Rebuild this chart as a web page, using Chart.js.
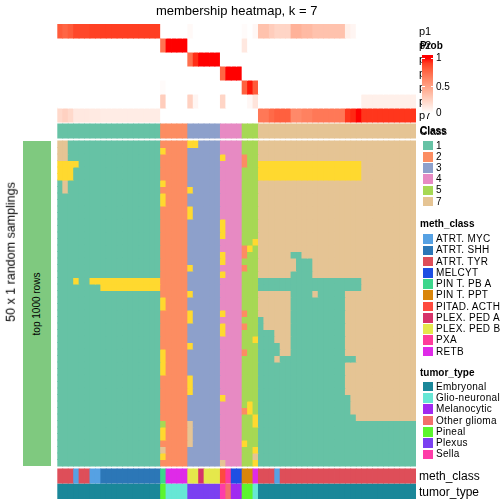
<!DOCTYPE html>
<html>
<head>
<meta charset="utf-8">
<script src="https://cdn.jsdelivr.net/npm/chart.js@4.4.0/dist/chart.umd.min.js"></script>
<style>
  body { margin: 0; background: #fff; font-family: "Liberation Sans", Arial, Helvetica, sans-serif; }
  #wrap { position: relative; width: 504px; height: 504px; overflow: hidden; }
  #wrap canvas { position: absolute; left: 0; top: 0; }
  #wrap div { position: absolute; white-space: nowrap; color: #000; }
</style>
</head>
<body>
<div id="wrap"><canvas id="heat" width="504" height="504"></canvas></div>
<script>
// ---- data ----
const classColors = { 1: '#66C2A5', 2: '#FC8D62', 3: '#8DA0CB', 4: '#E78AC3', 5: '#A6D854', 6: '#FFD92F', 7: '#E5C494' };
const classLegend = ['1', '2', '3', '4', '5', '7'];

// consensus class of each of the 66 samples (columns)
const sampleClass = "1111111111111111111 22222 333333 4444 555 77777777777777777777777777777";

// membership probabilities p1..p7 per column
const p1 = [0.80,0.76,0.80,0.87,0.87,0.87,0.89,0.89,0.90,0.90,0.90,0.90,0.90,0.90,0.90,0.90,0.90,0.90,0.90,
  0,0,0,0,0, 0.03,0,0,0,0,0, 0,0,0,0, 0.02,0,0.04,
  0.32,0.32,0.26,0.22,0.22,0.22,0.40,0.40,0.36,0.36,0.32,0.32,0.32,0.32,0.32,0.32,0.08,0.05,0,0,0,0,0,0,0,0,0,0,0];
const p2 = [0,0,0,0,0,0,0,0,0,0,0,0,0,0,0,0,0,0,0,
  0.70,1,1,1,1, 0,0,0,0,0,0, 0,0,0,0, 0.12,0,0,
  0,0,0,0,0,0,0,0,0,0,0,0,0,0,0,0,0,0,0,0,0,0,0,0,0,0,0,0,0];
const p3 = [0,0,0,0,0,0,0,0,0,0,0,0,0,0,0,0,0,0,0,
  0,0,0,0,0, 0.72,0.94,1,1,1,1, 0,0,0,0, 0,0,0,
  0,0,0,0,0,0,0,0,0,0,0,0,0,0,0,0,0,0,0,0,0,0,0,0,0,0,0,0,0];
const p4 = [0,0,0,0,0,0,0,0,0,0,0,0,0,0,0,0,0,0,0,
  0,0,0,0,0, 0,0,0,0,0,0, 0.76,1,1,1, 0,0,0,
  0,0,0,0,0,0,0,0,0,0,0,0,0,0,0,0,0,0,0,0,0,0,0,0,0,0,0,0,0];
const p5 = [0,0,0,0,0,0,0,0,0,0,0,0,0,0,0,0,0,0,0,
  0.02,0,0,0,0, 0,0,0,0,0,0, 0,0,0,0, 0.78,0.98,0.80,
  0,0,0,0,0,0,0,0,0,0,0,0,0,0,0,0,0,0,0,0,0,0,0,0,0,0,0,0,0];
const p6 = [0,0,0,0,0,0,0,0,0,0,0,0,0,0,0,0,0,0,0,
  0.26,0,0,0,0, 0.24,0.05,0,0,0,0, 0.22,0,0,0, 0,0.04,0.14,
  0,0,0,0,0,0,0,0,0,0,0,0,0,0,0,0,0,0,0,0.08,0.08,0.08,0.08,0.08,0.08,0.08,0.08,0.08,0.08];
const p7 = [0.20,0.24,0.20,0.12,0.12,0.12,0.11,0.11,0.10,0.10,0.10,0.10,0.10,0.10,0.10,0.10,0.10,0.10,0.10,
  0,0,0,0,0, 0,0,0,0,0,0, 0,0,0,0, 0,0,0,
  0.68,0.68,0.74,0.78,0.78,0.78,0.60,0.60,0.64,0.64,0.68,0.68,0.68,0.68,0.68,0.68,0.92,0.95,1.00,0.92,0.92,0.92,0.92,0.92,0.92,0.92,0.92,0.92,0.92];
const probRows = [p1, p2, p3, p4, p5, p6, p7];
const probNames = ['p1', 'p2', 'p3', 'p4', 'p5', 'p6', 'p7'];

// class of each column in each of the 50 random samplings
const samplings = [
  "7711111111111111111 22222 663333 4444 555 777777 7777777777 777 7777777777",
  "7711111111111111111 62222 333333 4444 555 777777 7777777777 777 7777777777",
  "7711111111111111111 22222 333333 6444 255 777777 7777777777 777 7777777777",
  "6666111111111111111 22222 333333 4444 255 666666 6666666666 666 7777777777",
  "6661111111111111111 22222 333333 4444 555 666666 6666666666 666 7777777777",
  "6661111111111111111 22222 333333 4444 555 666666 6666666666 666 7777777777",
  "1711111111111111111 62222 333333 4444 555 777777 7777777777 777 7777777777",
  "1711111111111111111 22222 633333 4444 555 777777 7777777777 777 7777777777",
  "1111111111111111111 62222 333333 4444 555 777777 7777777777 777 7777777777",
  "1111111111111111111 62222 333333 4444 555 777777 7777777777 777 7777777777",
  "1111111111111111111 22222 633333 4444 555 777777 7777777777 777 7777777777",
  "1111111111111111111 22222 633333 4444 555 777777 7777777777 777 7777777777",
  "1111111111111111111 22222 333333 6444 555 777777 7777777777 777 7777777777",
  "1111111111111111111 22222 333333 6444 555 777777 7777777777 777 7777777777",
  "1111111111111111111 22222 333333 6444 555 777777 7777777777 777 7777777777",
  "1111111111111111111 22222 333333 4444 556 777777 7777777777 777 7777777777",
  "1111111111111111111 22222 333333 4444 265 777777 7777777777 777 7777777777",
  "1111111111111111111 22222 333333 6444 255 777777 1177777777 777 7777777777",
  "1111111111111111111 22222 333333 6444 555 777777 7111777777 777 7777777777",
  "1111111111111111111 22222 633333 4444 255 777777 7111777777 777 7777777777",
  "1111111111111111111 22222 333333 6444 555 777777 1111777777 777 7777777777",
  "1116116666666666666 22222 333333 4444 555 111111 1111111111 111 7777777777",
  "1111111166666666666 22222 333333 4444 555 111111 1111111111 111 7777777777",
  "1111111111111111111 22222 633333 4444 555 777777 1111711111 777 7777777777",
  "1111111111111111111 62222 333333 4444 555 777777 1111111111 777 7777777777",
  "1111111111111111111 62222 333333 4444 555 777777 1111111111 777 7777777777",
  "1111111111111111111 22222 633333 6444 255 777777 1111111111 777 7777777777",
  "1111111111111111111 22222 633333 4444 555 177777 1111111111 777 7777777777",
  "1111111111111111111 22222 333333 6444 255 177777 1111111111 777 7777777777",
  "1111111111111111111 22222 333333 6444 555 111777 1111111111 777 7777777777",
  "1111111111111111111 22222 333333 4444 556 111777 1111111111 777 7777777777",
  "1111111111111111111 22222 633333 4444 555 111177 1111111111 777 7777777777",
  "1111111111111111111 62222 333333 4444 255 111177 1111111111 777 7777777777",
  "1111111111111111111 62222 333333 4444 555 111711 1111111111 117 7777777777",
  "1111111111111111111 62222 333333 4444 555 111111 1111111111 777 7777777777",
  "1111111111111111111 62222 333333 4444 555 111111 1111111111 777 7777777777",
  "1111111111111111111 22222 633333 4444 555 111111 1111111111 777 7777777777",
  "1111111111111111111 22222 633333 4444 555 111111 1111111111 777 7777777777",
  "1111111111111111111 22222 633333 4444 555 111111 1111111111 777 7777777777",
  "1111111111111111111 22222 333333 6444 555 111111 1111111111 177 7777777777",
  "1111111111111111111 22222 333333 4444 565 111111 1111111111 177 7777777777",
  "1111111111111111111 22222 333333 4444 265 111111 1111111111 177 7777777777",
  "1111111111111111111 22222 333333 4444 556 111111 1111111111 117 7777777777",
  "1111111111111111111 52222 733333 4444 556 111111 1111111111 111 1111111111",
  "1111111111111111111 62222 733333 4444 555 111111 1111111111 111 1111111111",
  "1111111111111111111 62222 733333 4444 555 111111 1111111111 111 1111111111",
  "1111111111111111111 22222 733333 4444 655 111111 1111111111 111 1111111111",
  "1111111111111111111 72222 333333 4444 556 111111 1111111111 111 1111111111",
  "1111111111111111111 62222 333333 4444 557 111111 1111111111 111 1111111111",
  "1111111111111111111 22222 333333 7444 556 111111 1111111111 111 1111111111"
];

const methClass = [
  'ATRT. TYR','ATRT. TYR','ATRT. TYR','ATRT. MYC','ATRT. TYR','ATRT. TYR','ATRT. MYC','ATRT. MYC',
  'ATRT. SHH','ATRT. SHH','ATRT. SHH','ATRT. SHH','ATRT. SHH','ATRT. SHH','ATRT. SHH','ATRT. SHH','ATRT. SHH','ATRT. SHH','ATRT. SHH',
  'PIN T. PB A','RETB','RETB','RETB','RETB',
  'PLEX. PED B','PLEX. PED B','PLEX. PED A','PLEX. PED B','PLEX. PED B','PLEX. PED B',
  'PITAD. ACTH','PXA','MELCYT','MELCYT',
  'PIN T. PPT','PIN T. PPT','RETB',
  'ATRT. TYR','ATRT. TYR','ATRT. TYR','ATRT. MYC','ATRT. TYR','ATRT. TYR','ATRT. TYR','ATRT. TYR','ATRT. TYR',
  'ATRT. TYR','ATRT. TYR','ATRT. TYR','ATRT. TYR','ATRT. TYR','ATRT. TYR','ATRT. TYR','ATRT. TYR','ATRT. TYR',
  'ATRT. TYR','ATRT. TYR','ATRT. TYR','ATRT. TYR','ATRT. TYR','ATRT. TYR','ATRT. TYR','ATRT. TYR','ATRT. TYR',
  'ATRT. TYR','ATRT. TYR'
];
const tumorType = [
  'Embryonal','Embryonal','Embryonal','Embryonal','Embryonal','Embryonal','Embryonal','Embryonal','Embryonal','Embryonal',
  'Embryonal','Embryonal','Embryonal','Embryonal','Embryonal','Embryonal','Embryonal','Embryonal','Embryonal',
  'Pineal','Glio-neuronal','Glio-neuronal','Glio-neuronal','Glio-neuronal',
  'Plexus','Plexus','Plexus','Plexus','Plexus','Plexus',
  'Sella','Other glioma','Melanocytic','Melanocytic',
  'Pineal','Pineal','Glio-neuronal',
  'Embryonal','Embryonal','Embryonal','Embryonal','Embryonal','Embryonal','Embryonal','Embryonal','Embryonal','Embryonal',
  'Embryonal','Embryonal','Embryonal','Embryonal','Embryonal','Embryonal','Embryonal','Embryonal','Embryonal','Embryonal',
  'Embryonal','Embryonal','Embryonal','Embryonal','Embryonal','Embryonal','Embryonal','Embryonal','Embryonal'
];

const methColors = {
  'ATRT. MYC': '#56A1E3', 'ATRT. SHH': '#2C77B7', 'ATRT. TYR': '#DE4E59', 'MELCYT': '#1D4FE3',
  'PIN T. PB A': '#3CD68C', 'PIN T. PPT': '#D9850A', 'PITAD. ACTH': '#FE4A3F', 'PLEX. PED A': '#D6336A',
  'PLEX. PED B': '#E5E84B', 'PXA': '#FE3B9B', 'RETB': '#DF2AE8'
};
const tumorColors = {
  'Embryonal': '#1A8799', 'Glio-neuronal': '#66E7D5', 'Melanocytic': '#A12AF0', 'Other glioma': '#F3706B',
  'Pineal': '#5BF52E', 'Plexus': '#7B40F1', 'Sella': '#FE3CA8'
};

const nCol = 66;
const samples = sampleClass.replace(/ /g, '').split('').map((c, i) => 'S' + (i + 1));
[...probRows, methClass, tumorType].forEach(a => { if (a.length !== nCol) throw new Error('bad length ' + a.length); });
samplings.forEach((s, i) => { if (s.replace(/ /g, '').length !== nCol) throw new Error('bad row ' + i); });

// white -> red ramp in Lab space
function toLab([r, g, b]) {
  const lin = c => { c /= 255; return c > 0.04045 ? Math.pow((c + 0.055) / 1.055, 2.4) : c / 12.92; };
  const R = lin(r), G = lin(g), B = lin(b);
  const f = t => t > 0.008856 ? Math.cbrt(t) : 7.787 * t + 16 / 116;
  const x = f((R * 0.4124 + G * 0.3576 + B * 0.1805) / 0.95047);
  const y = f(R * 0.2126 + G * 0.7152 + B * 0.0722);
  const z = f((R * 0.0193 + G * 0.1192 + B * 0.9505) / 1.08883);
  return [116 * y - 16, 500 * (x - y), 200 * (y - z)];
}
function fromLab([L, a, bb]) {
  const fy = (L + 16) / 116, fx = a / 500 + fy, fz = fy - bb / 200;
  const inv = t => t * t * t > 0.008856 ? t * t * t : (t - 16 / 116) / 7.787;
  const x = inv(fx) * 0.95047, y = inv(fy), z = inv(fz) * 1.08883;
  const g = c => {
    c = c > 0.0031308 ? 1.055 * Math.pow(c, 1 / 2.4) - 0.055 : 12.92 * c;
    return Math.round(Math.min(1, Math.max(0, c)) * 255);
  };
  return `rgb(${g(x * 3.2406 - y * 1.5372 - z * 0.4986)},${g(-x * 0.9689 + y * 1.8758 + z * 0.0415)},${g(x * 0.0557 - y * 0.2040 + z * 1.0570)})`;
}
const labWhite = toLab([255, 255, 255]), labRed = toLab([255, 0, 0]);
const probColor = v => fromLab(labWhite.map((w, i) => w + (labRed[i] - w) * v));

// ---- stack the tracks top to bottom ----
const tracks = [];
let cursor = 0;
function addTrack(name, colors, h, gap) {
  cursor += gap;
  tracks.push({ name, colors, y0: cursor, y1: cursor + h });
  cursor += h;
}
probRows.forEach((vals, i) => addTrack(probNames[i], vals.map(probColor), 14, 0));
addTrack('Class', sampleClass.replace(/ /g, '').split('').map(c => classColors[c]), 14, 2);
samplings.forEach((row, i) => addTrack('s' + i, row.replace(/ /g, '').split('').map(c => classColors[c]), 6.5, i === 0 ? 3 : 0));
addTrack('meth_class', methClass.map(m => methColors[m]), 14, 3);
addTrack('tumor_type', tumorType.map(t => tumorColors[t]), 15, 1);

const datasets = tracks.map(t => ({
  label: t.name,
  data: samples.map(() => [t.y0, t.y1]),
  backgroundColor: t.colors
}));

const chart = new Chart(document.getElementById('heat'), {
  type: 'bar',
  data: { labels: samples, datasets },
  options: {
    responsive: false,
    animation: false,
    devicePixelRatio: 1,
    events: [],
    layout: { padding: { left: 57.3, right: 88, top: 24, bottom: 5 } },
    plugins: { legend: { display: false }, title: { display: false }, tooltip: { enabled: false } },
    datasets: { bar: { grouped: false, barPercentage: 1, categoryPercentage: 1, borderWidth: 0, inflateAmount: 0.4 } },
    scales: {
      x: { display: false, offset: true },
      y: { display: false, min: 0, max: cursor, reverse: true }
    }
  }
});

// ---- text, legends ----
const wrap = document.getElementById('wrap');
function addText(text, x, cy, size, bold, extra) {
  const d = document.createElement('div');
  d.textContent = text;
  d.style.cssText = `left:${x}px;top:${cy - 8}px;line-height:16px;font-size:${size}px;font-weight:${bold ? 'bold' : 'normal'};${extra || ''}`;
  wrap.appendChild(d);
  return d;
}
function addBox(x, y, w, h, bg) {
  const d = document.createElement('div');
  d.style.cssText = `left:${x}px;top:${y}px;width:${w}px;height:${h}px;background:${bg};`;
  wrap.appendChild(d);
  return d;
}
function addRotated(text, cx, cy, size) {
  const d = document.createElement('div');
  d.textContent = text;
  d.style.cssText = `left:${cx}px;top:${cy}px;font-size:${size}px;line-height:${size + 2}px;transform:translate(-50%,-50%) rotate(-90deg);`;
  wrap.appendChild(d);
}

const ca = chart.chartArea;
const yPix = v => chart.scales.y.getPixelForValue(v);
const mid = t => yPix((t.y0 + t.y1) / 2);

addText('membership heatmap, k = 7', ca.left, 11, 13, false, `width:${ca.right - ca.left}px;text-align:center;`);

const mainTop = yPix(tracks[8].y0), mainBot = yPix(tracks[57].y1);
addBox(23, mainTop, 28, mainBot - mainTop, '#7FC97F');
addRotated('top 1000 rows', 37, (mainTop + mainBot) / 2, 10);
addRotated('50 x 1 random samplings', 11, 252, 12.5);

// row names right of the tracks
tracks.slice(0, 7).forEach(t => addText(t.name, 419, mid(t), 11));
addText('Class', 419.5, mid(tracks[7]), 11);
addText('meth_class', 419, mid(tracks[58]), 12);
addText('tumor_type', 419, mid(tracks[59]), 12);

// Prob colour bar
addText('Prob', 420, 46, 10, true);
const stops = [];
for (let i = 0; i <= 10; i++) stops.push(`${probColor(1 - i / 10)} ${5 + i * 9.5}%`);
addBox(422, 55, 11, 58, `linear-gradient(to bottom, ${probColor(1)} 0%, ${stops.join(',')})`);
[58, 86.5].forEach(y => { addBox(422, y - 0.5, 2.5, 1, '#fff'); addBox(430.5, y - 0.5, 2.5, 1, '#fff'); });
addText('1', 436, 58, 10);
addText('0.5', 436, 86.5, 10);
addText('0', 436, 113, 10);

function legend(titleText, names, colors, titleY, firstTop, step) {
  addText(titleText, 420, titleY, 10, true);
  names.forEach((n, i) => {
    const top = firstTop + step * i;
    addBox(422.5, top, 10.4, 9.7, colors[n]);
    addText(n, 436, top + 4.9, 10, false, 'letter-spacing:0.3px;');
  });
}
legend('Class', classLegend, classColors, 131, 140.7, 11.2);
legend('meth_class', Object.keys(methColors), methColors, 224, 234.3, 11.23);
legend('tumor_type', Object.keys(tumorColors), tumorColors, 372.5, 381.7, 11.3);
</script>
</body>
</html>
